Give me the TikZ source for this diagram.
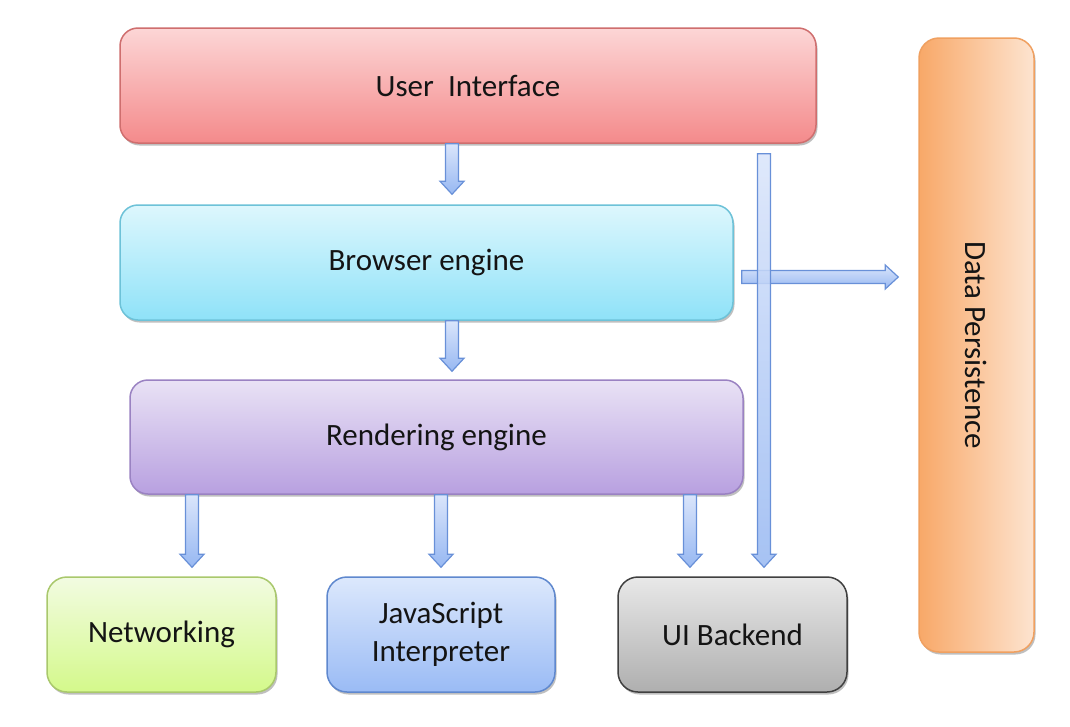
\documentclass[tikz,border=0pt]{standalone}
\usepackage{fontspec}
\usepackage{graphicx}
\setmainfont{Carlito}
\usetikzlibrary{calc,shadows}
\definecolor{textcol}{HTML}{141414}
\definecolor{uitop}{HTML}{FCD6D6}
\definecolor{uibot}{HTML}{F48A8B}
\definecolor{uiborder}{HTML}{CF6E6E}
\definecolor{betop}{HTML}{DDF7FD}
\definecolor{bebot}{HTML}{8FE2F8}
\definecolor{beborder}{HTML}{6DC2D8}
\definecolor{retop}{HTML}{E9E2F5}
\definecolor{rebot}{HTML}{B8A0E0}
\definecolor{reborder}{HTML}{9A82C2}
\definecolor{nettop}{HTML}{F2FBE1}
\definecolor{netbot}{HTML}{D4F98B}
\definecolor{netborder}{HTML}{A9C86C}
\definecolor{jstop}{HTML}{DCE8FC}
\definecolor{jsbot}{HTML}{9ABBF5}
\definecolor{jsborder}{HTML}{5F88CE}
\definecolor{uibtop}{HTML}{E8E8E8}
\definecolor{uibbot}{HTML}{AFAFAF}
\definecolor{uibborder}{HTML}{404040}
\definecolor{dpleft}{HTML}{F8A868}
\definecolor{dpright}{HTML}{FDE4D0}
\definecolor{dpborder}{HTML}{F0A060}
\definecolor{arrtop}{HTML}{DAE5FB}
\definecolor{arrbot}{HTML}{97B8F2}
\definecolor{arrborder}{HTML}{6890D8}
\tikzset{
  box/.style={rectangle, rounded corners=18pt, line width=1.5pt, inner sep=0pt,
    align=center, font=\fontsize{31}{38}\selectfont, text=textcol,
    drop shadow={shadow xshift=1.5pt, shadow yshift=-2.5pt, opacity=0.25, fill=black}},
  arrowstyle/.style={draw=arrborder, line width=1.2pt, top color=arrtop, bottom color=arrbot},
  varrow/.style={arrowstyle, to path={let \p1=(\tikztostart), \p2=(\tikztotarget) in
    (\x1-6.5pt,\y1) -- (\x1-6.5pt,\y2+13pt) -- (\x1-12pt,\y2+13pt) -- (\x1,\y2)
    -- (\x1+12pt,\y2+13pt) -- (\x1+6.5pt,\y2+13pt) -- (\x1+6.5pt,\y1) -- cycle}},
  harrow/.style={arrowstyle, to path={let \p1=(\tikztostart), \p2=(\tikztotarget) in
    (\x1,\y1+6.5pt) -- (\x2-13pt,\y1+6.5pt) -- (\x2-13pt,\y1+12pt) -- (\x2,\y1)
    -- (\x2-13pt,\y1-12pt) -- (\x2-13pt,\y1-6.5pt) -- (\x1,\y1-6.5pt) -- cycle}}
}
\begin{document}
\begin{tikzpicture}[x=1pt,y=-1pt]
\useasboundingbox[fill=white] (0,0) rectangle (1070,726);

\node[box, minimum width=696pt, minimum height=115pt, draw=uiborder, top color=uitop, bottom color=uibot]
  (ui) at (468,85.5) {User~~Interface};
\node[box, minimum width=613pt, minimum height=115pt, draw=beborder, top color=betop, bottom color=bebot]
  (be) at (426.5,262.5) {Browser engine};
\node[box, minimum width=613pt, minimum height=114pt, draw=reborder, top color=retop, bottom color=rebot]
  (re) at (436.5,437) {Rendering engine};
\node[box, rounded corners=20pt, minimum width=229pt, minimum height=115pt, draw=netborder, top color=nettop, bottom color=netbot]
  (net) at (161.5,634.5) {Networking};
\node[box, rounded corners=20pt, minimum width=228pt, minimum height=115pt, draw=jsborder, top color=jstop, bottom color=jsbot]
  (js) at (441,634.5) {JavaScript\\Interpreter};
\node[box, rounded corners=20pt, minimum width=229pt, minimum height=115pt, draw=uibborder, top color=uibtop, bottom color=uibbot]
  (uib) at (732.5,634.5) {UI Backend};
\node[box, rounded corners=20pt, minimum width=115pt, minimum height=614pt, draw=dpborder, left color=dpleft, right color=dpright]
  (dp) at (976.5,345) {\rotatebox{-90}{Data Persistence}};

\path[varrow] ([xshift=-16pt]ui.south) to ([xshift=25.5pt,yshift=10pt]be.north);
\path[varrow] ([xshift=25.5pt]be.south) to ([xshift=15.5pt,yshift=8pt]re.north);
\path[varrow] ([xshift=-244.5pt]re.south) to ([xshift=30.5pt,yshift=9pt]net.north);
\path[varrow] ([xshift=4.5pt]re.south) to ([yshift=9pt]js.north);
\path[varrow] ([xshift=253.5pt]re.south) to ([xshift=-42.5pt,yshift=9pt]uib.north);
\path[harrow] ([xshift=8pt,yshift=-14.5pt]be.east) to ([xshift=-20pt,yshift=68pt]dp.west);
\path[varrow, fill opacity=0.85] ([xshift=296pt,yshift=-10pt]ui.south) to ([xshift=31.5pt,yshift=9pt]uib.north);
\end{tikzpicture}
\end{document}
